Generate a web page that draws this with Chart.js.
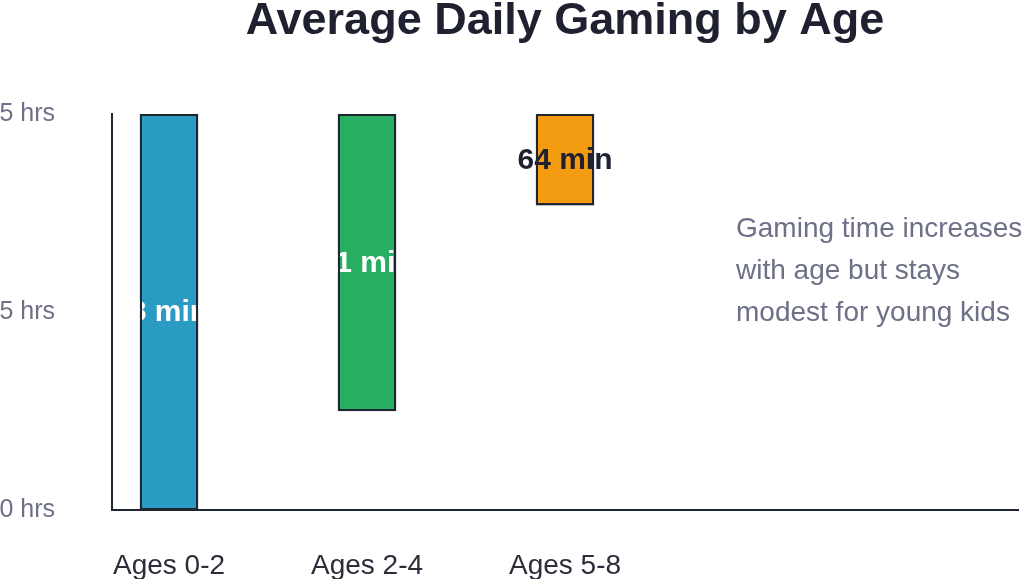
<!DOCTYPE html>
<html>
<head>
<meta charset="utf-8">
<script src="https://cdn.jsdelivr.net/npm/chart.js@4/dist/chart.umd.min.js"></script>
<style>
  html, body { margin: 0; padding: 0; background: #ffffff; overflow: hidden; width: 1024px; height: 579px; }
  #wrap { position: absolute; left: -40px; top: 0; width: 1064px; height: 579px; }
</style>
</head>
<body>
<div id="wrap"><canvas id="c" width="1064" height="579"></canvas></div>
<script>
// ---- data ----
const categories = ['Ages 0-2', 'Ages 2-4', 'Ages 5-8'];
const barStartHrs = [0, 0.375, 1.155];   // lower edge of each floating bar (hrs)
const barEndHrs = [1.5, 1.5, 1.5];       // upper edge of each floating bar (hrs)
const minuteLabels = [8, 11, 64];         // value labels shown on the bars (min)
const yTicks = [0, 0.75, 1.5];            // hrs
const titleText = 'Average Daily Gaming by Age';
const noteLines = ['Gaming time increases', 'with age but stays', 'modest for young kids'];

// ---- styles ----
const SHIFT = 40;
const barColors = ['#2a9cc4', '#27ae60', '#f39c12'];
const labelColors = ['#ffffff', '#ffffff', '#1f2130'];
const borderDark = '#1e2632';
const FONT = '"Liberation Sans", Arial, Helvetica, sans-serif';

const points = categories.map((c, i) => ({ x: i, y: [barStartHrs[i], barEndHrs[i]] }));

const barLabels = {
  id: 'barLabels',
  afterDatasetsDraw(chart) {
    const ctx = chart.ctx;
    const meta = chart.getDatasetMeta(0);
    ctx.save();
    ctx.font = 'bold 30px ' + FONT;
    ctx.textAlign = 'center';
    ctx.textBaseline = 'middle';
    meta.data.forEach((bar, i) => {
      const p = bar.getProps(['x', 'y', 'base', 'width'], true);
      const cy = (p.y + p.base) / 2;
      ctx.fillStyle = labelColors[i];
      ctx.fillText(minuteLabels[i] + ' min', p.x, cy + 1);
      const top = Math.min(p.y, p.base), h = Math.abs(p.base - p.y);
      ctx.strokeStyle = borderDark;
      ctx.lineWidth = 2;
      ctx.strokeRect(p.x - p.width / 2 + 1, top + 1, p.width - 2, h - 2);
    });
    ctx.restore();
  }
};

const note = {
  id: 'note',
  afterDraw(chart) {
    const ctx = chart.ctx;
    ctx.save();
    ctx.font = '28px ' + FONT;
    ctx.fillStyle = '#6d7086';
    ctx.textAlign = 'left';
    ctx.textBaseline = 'middle';
    noteLines.forEach((t, i) => ctx.fillText(t, 736 + SHIFT, 229 + i * 42));
    ctx.restore();
  }
};

new Chart(document.getElementById('c'), {
  type: 'bar',
  data: {
    datasets: [{
      data: points,
      backgroundColor: barColors,
      borderColor: borderDark,
      borderWidth: 2,
      borderSkipped: false,
      barThickness: 58
    }]
  },
  options: {
    responsive: false,
    animation: false,
    layout: { padding: { left: 0, right: 6, top: 0, bottom: 0 } },
    plugins: {
      legend: { display: false },
      tooltip: { enabled: false },
      title: {
        display: true,
        text: titleText,
        fullSize: false,
        color: '#1f2130',
        font: { family: FONT, size: 45, weight: 'bold', lineHeight: 0.8 },
        padding: { top: 4, bottom: 74 }
      }
    },
    scales: {
      x: {
        type: 'linear',
        offset: false,
        min: -0.2879,
        max: 4.2879,
        grid: { display: false },
        border: { display: true, color: borderDark, width: 2 },
        afterBuildTicks(scale) { scale.ticks = categories.map((c, i) => ({ value: i })); },
        afterFit(scale) { scale.height = 69; },
        ticks: {
          autoSkip: false,
          maxRotation: 0,
          padding: 31,
          color: '#2b2d3a',
          font: { family: FONT, size: 28 },
          callback: (v) => categories[v] !== undefined ? categories[v] : ''
        }
      },
      y: {
        min: 0,
        max: 1.5,
        grid: { display: false },
        border: { display: true, color: borderDark, width: 2 },
        afterBuildTicks(scale) { scale.ticks = yTicks.map(v => ({ value: v })); },
        afterFit(scale) { scale.width = 112 + SHIFT; },
        ticks: {
          padding: 49,
          color: '#6d7086',
          font: { family: FONT, size: 25 },
          callback: (v) => v + ' hrs'
        }
      }
    }
  },
  plugins: [barLabels, note]
});
</script>
</body>
</html>
